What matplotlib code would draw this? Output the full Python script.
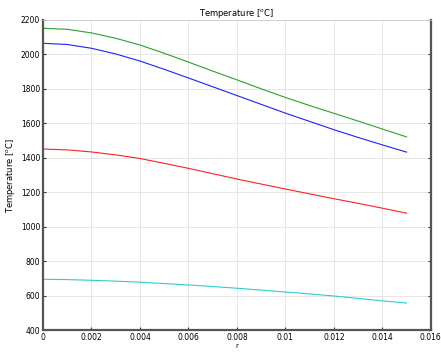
import matplotlib
matplotlib.use("Agg")
import matplotlib.pyplot as plt

r = [0.0, 0.001, 0.002, 0.003, 0.004, 0.005, 0.006, 0.007, 0.008,
     0.009, 0.010, 0.011, 0.012, 0.013, 0.014, 0.015]
t_green = [2151, 2145, 2124, 2093, 2054, 2006, 1955, 1903, 1852,
           1800, 1750, 1703, 1658, 1613, 1567, 1521]
t_blue = [2064, 2057, 2035, 2002, 1961, 1913, 1863, 1812, 1761,
          1710, 1659, 1611, 1563, 1518, 1475, 1433]
t_red = [1451, 1446, 1434, 1417, 1396, 1368, 1339, 1308, 1277,
         1248, 1219, 1191, 1163, 1136, 1108, 1079]
t_cyan = [696, 694, 690, 685, 679, 671, 663, 654, 644,
          633, 622, 611, 599, 585, 571, 558]

xticks = [0, 0.002, 0.004, 0.006, 0.008, 0.01, 0.012, 0.014, 0.016]
xticklabels = ["0", "0.002", "0.004", "0.006", "0.008", "0.01", "0.012", "0.014", "0.016"]
yticks = [400, 600, 800, 1000, 1200, 1400, 1600, 1800, 2000, 2200]

fig = plt.figure(figsize=(4.41, 3.52), dpi=100, facecolor="white")
ax = fig.add_axes([0.0975, 0.0616, 0.8795, 0.8821])

ax.plot(r, t_green, color="#2ca02c", lw=0.8)
ax.plot(r, t_blue, color="#1f1fff", lw=0.8)
ax.plot(r, t_red, color="#ff2020", lw=0.8)
ax.plot(r, t_cyan, color="#30cccc", lw=0.8)

ax.set_xlim(0, 0.016)
ax.set_ylim(400, 2200)
ax.set_xticks(xticks)
ax.set_xticklabels(xticklabels)
ax.set_yticks(yticks)
ax.grid(True, color="#e6e6e6", lw=0.7)
ax.tick_params(direction="in", labelsize=5.5, length=2.5, width=0.8,
               color="#333333", right=True, pad=2)

for side in ["left", "bottom", "right"]:
    ax.spines[side].set_color("#555555")
    ax.spines[side].set_linewidth(1.6)
ax.spines["top"].set_color("#cccccc")
ax.spines["top"].set_linewidth(0.6)

ax.set_title("Temperature [$^o$C]", fontsize=6, pad=3)
ax.set_xlabel("r", fontsize=5, labelpad=1)
ax.set_ylabel("Temperature [$^o$C]", fontsize=6, labelpad=3)

fig.savefig("out.png", dpi=100)
